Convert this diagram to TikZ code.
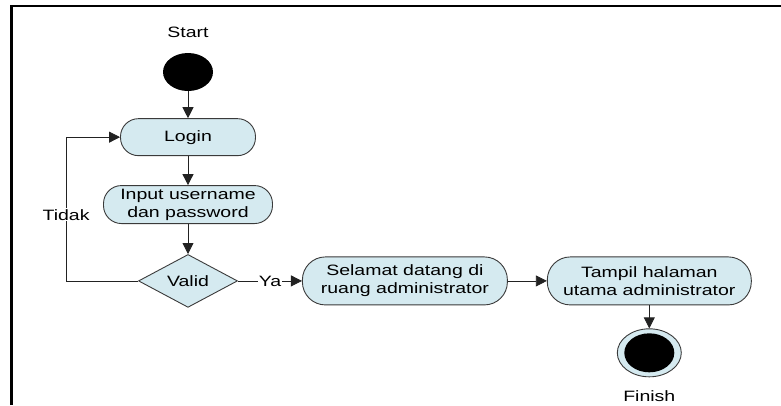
\documentclass[tikz,border=0pt]{standalone}
\usepackage{fontspec}
\setmainfont{Liberation Sans}[FakeStretch=1.3]
\usetikzlibrary{arrows.meta, positioning, shapes.geometric}
\definecolor{actfill}{HTML}{D5EAF0}
\definecolor{actline}{HTML}{3A3A3A}
\definecolor{flowline}{HTML}{222222}

\begin{document}
\begin{tikzpicture}[x=1pt, y=-1pt, >={Triangle[length=11pt, width=11pt]},
    font=\fontsize{15}{18}\selectfont,
    act/.style={draw=actline, fill=actfill, line width=0.9pt, rectangle,
      rounded corners=18pt, minimum height=37pt, inner sep=0pt, align=center},
    bigact/.style={act, minimum width=205pt, minimum height=48pt, rounded corners=23pt},
    decision/.style={draw=actline, fill=actfill, line width=0.9pt, diamond,
      minimum width=99pt, minimum height=50pt, inner sep=0pt},
    startdot/.style={ellipse, fill=black, minimum width=50pt, minimum height=38pt, inner sep=0pt},
    enddot/.style={ellipse, draw=actline, fill=actfill, line width=0.9pt,
      minimum width=64pt, minimum height=48pt, inner sep=0pt},
    txt/.style={inner sep=0pt},
    flow/.style={->, draw=flowline, line width=0.8pt}]
  \useasboundingbox (0,0) rectangle (781,405);
  \draw[line width=2.7pt, line join=miter] (11.3,405) -- (11.3,6) -- (781,6);

  % activity nodes
  \node[startdot] (start) at (188,72) {};
  \node[txt, above=15pt of start] (startlbl) {Start};
  \node[act, below=27pt of start, minimum width=135pt] (login) {Login};
  \node[act, below=29pt of login, minimum width=169pt, minimum height=38pt] (input) {Input username\\dan password};
  \node[decision, below=30pt of input] (valid) {Valid};
  \node[bigact, right=64pt of valid] (welcome) {Selamat datang di\\ruang administrator};
  \node[bigact, right=39pt of welcome, minimum width=204pt] (home) {Tampil halaman\\utama administrator};
  \node[enddot, below=23pt of home] (finish) {};
  \node[startdot, minimum height=39pt] (finishdot) at (finish) {};
  \node[txt, below=13pt of finish] (finishlbl) {Finish};

  % transitions
  \draw[flow] (start) -- (login);
  \draw[flow] (login) -- (input);
  \draw[flow] (input) -- (valid);
  \draw[flow] (valid) -- node[fill=white, inner sep=1pt] {Ya} (welcome);
  \draw[flow] (welcome) -- (home);
  \draw[flow] (home) -- (finish);
  \draw[flow] (valid.west) -- ++(-72,0) |- node[pos=0.23, fill=white, inner sep=1pt] {Tidak} (login.west);
\end{tikzpicture}
\end{document}
